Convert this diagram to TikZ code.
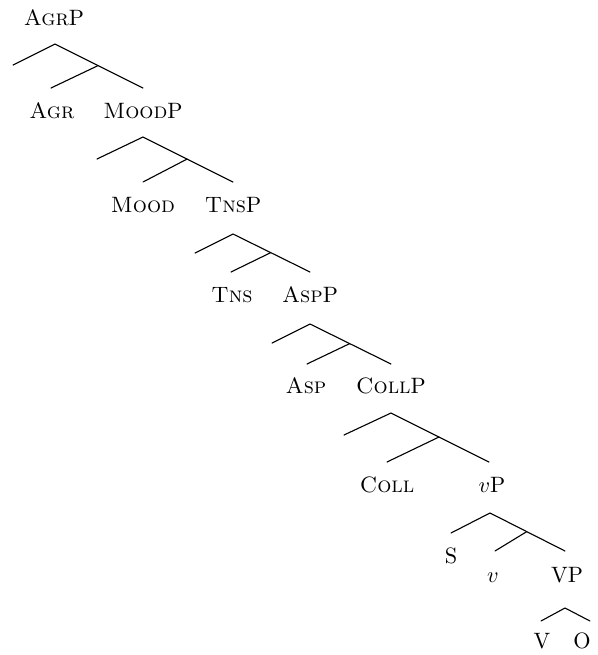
\documentclass[tikz,border=0pt]{standalone}
\usetikzlibrary{calc}
\begin{document}
\begin{tikzpicture}[x=0.45pt,y=-0.45pt,
  lbl/.style={anchor=base,inner sep=0pt,font=\fontsize{10}{12}\selectfont},
  branch/.style={line width=0.5pt,line cap=round}]
\useasboundingbox (0,0) rectangle (598,655);

% ---- labels ----
\node[lbl] (agrp)  at (54,25)   {\textsc{Agr}P};
\node[lbl] (agr)   at (52,118)  {\textsc{Agr}};
\node[lbl] (moodp) at (143,118) {\textsc{Mood}P};
\node[lbl] (mood)  at (143,212) {\textsc{Mood}};
\node[lbl] (tnsp)  at (233,212) {\textsc{Tns}P};
\node[lbl] (tns)   at (232,302) {\textsc{Tns}};
\node[lbl] (aspp)  at (310,302) {\textsc{Asp}P};
\node[lbl] (asp)   at (306,393) {\textsc{Asp}};
\node[lbl] (collp) at (391,393) {\textsc{Coll}P};
\node[lbl] (coll)  at (387,492) {\textsc{Coll}};
\node[lbl] (vp)    at (492,492) {$v$P};
\node[lbl] (subj)  at (451,563) {S};
\node[lbl] (lv)    at (493,582) {$v$};
\node[lbl] (bigvp) at (567,582) {VP};
\node[lbl] (verb)  at (542,648) {V};
\node[lbl] (obj)   at (582,648) {O};

% ---- branching points: apex, specifier end, head end, complement end ----
\coordinate (a1) at (55,44);   \coordinate (s1) at (13,65);
\coordinate (h1) at (51,88);   \coordinate (c1) at (143,88);
\coordinate (a2) at (143,137); \coordinate (s2) at (97,159);
\coordinate (h2) at (143,182); \coordinate (c2) at (233,182);
\coordinate (a3) at (233,234); \coordinate (s3) at (195,253);
\coordinate (h3) at (231,272); \coordinate (c3) at (310,272);
\coordinate (a4) at (310,324); \coordinate (s4) at (272,343);
\coordinate (h4) at (307,364); \coordinate (c4) at (391,364);
\coordinate (a5) at (391,413); \coordinate (s5) at (344,435);
\coordinate (h5) at (387,462); \coordinate (c5) at (489,462);
\coordinate (a6) at (490,513); \coordinate (s6) at (451,533);
\coordinate (h6) at (495,551); \coordinate (c6) at (565,551);
\coordinate (a7) at (565,608); \coordinate (s7) at (541,621);
\coordinate (c7) at (590,621);

% ---- branches ----
\foreach \i in {1,...,6}{
  \coordinate (j\i) at ($(a\i)!0.49!(c\i)$);
  \draw[branch] (s\i) -- (a\i) -- (c\i);
  \draw[branch] (j\i) -- (h\i);
}
\draw[branch] (s7) -- (a7) -- (c7);
\end{tikzpicture}
\end{document}
